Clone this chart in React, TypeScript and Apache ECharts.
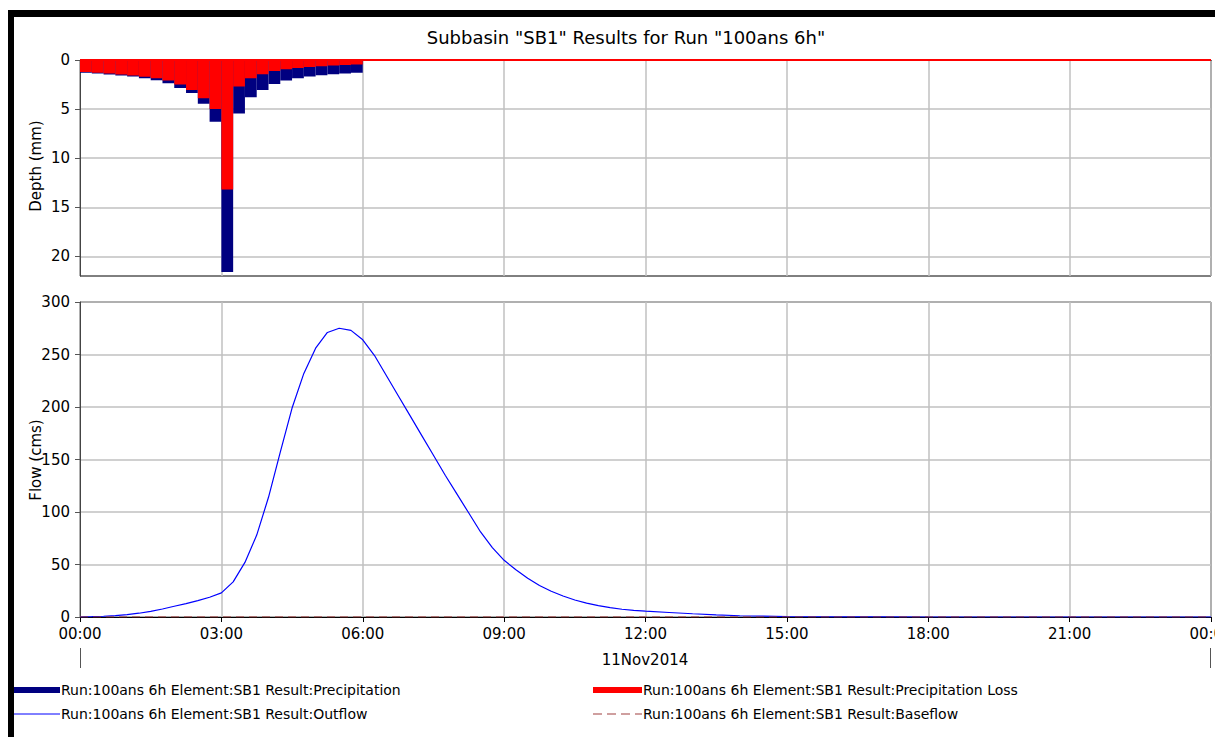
import React, { useEffect, useRef } from "react";
import * as echarts from "echarts";

// 15-minute precipitation intervals (hours from 00:00, 11Nov2014)
const precipTotal = [1.3, 1.38, 1.47, 1.57, 1.68, 1.85, 2.05, 2.38, 2.85, 3.36, 4.46, 6.3, 21.6, 5.45, 3.8, 3.05, 2.45, 2.1, 1.85, 1.68, 1.55, 1.45, 1.37, 1.3];
const precipLoss = [1.22, 1.3, 1.38, 1.47, 1.57, 1.7, 1.87, 2.1, 2.5, 3.05, 3.9, 5.0, 13.2, 2.7, 1.85, 1.45, 1.12, 0.95, 0.82, 0.72, 0.64, 0.57, 0.5, 0.45];
const intervalHours = 0.25;

// Outflow hydrograph (hour, cms)
const outflowHours = [0, 0.25, 0.5, 0.75, 1, 1.25, 1.5, 1.75, 2, 2.25, 2.5, 2.75, 3, 3.25, 3.5, 3.75, 4, 4.25, 4.5, 4.75, 5, 5.25, 5.5, 5.75, 6, 6.25, 6.5, 6.75, 7, 7.25, 7.5, 7.75, 8, 8.25, 8.5, 8.75, 9, 9.25, 9.5, 9.75, 10, 10.25, 10.5, 10.75, 11, 11.25, 11.5, 11.75, 12, 12.5, 13, 13.5, 14, 14.5, 15, 16, 17, 18, 24];
const outflowValues = [0, 0.3, 0.7, 1.3, 2.2, 3.6, 5.4, 7.6, 10.2, 12.8, 15.6, 18.8, 23.0, 33.5, 52, 78, 114, 157, 199, 232, 256, 271, 275, 273, 264, 249, 230, 211, 192, 173, 154, 135, 117, 99, 81, 66, 54, 45, 37, 30, 24.5, 20, 16.2, 13.2, 10.8, 8.9, 7.4, 6.4, 5.6, 4.3, 3.1, 2.0, 1.2, 0.8, 0.5, 0.2, 0.1, 0, 0];
const baseflowHours = [0, 24];
const baseflowValues = [0, 0];

const timeTicks = ["00:00", "03:00", "06:00", "09:00", "12:00", "15:00", "18:00", "21:00", "00:00"];
const depthTicks = [0, 5, 10, 15, 20];
const dateLabel = "11Nov2014";
const title = 'Subbasin "SB1" Results for Run "100ans 6h"';
const legendNames = [
  "Run:100ans 6h Element:SB1 Result:Precipitation",
  "Run:100ans 6h Element:SB1 Result:Precipitation Loss",
  "Run:100ans 6h Element:SB1 Result:Outflow",
  "Run:100ans 6h Element:SB1 Result:Baseflow",
];

const FONT = "DejaVu Sans";

export default function App() {
  const ref = useRef<HTMLDivElement>(null);
  useEffect(() => {
    if (!ref.current) return;
    const chart = echarts.init(ref.current, undefined, { renderer: "svg" });

    const barData = (vals: number[]) => vals.map((v, i) => [i * intervalHours, (i + 1) * intervalHours, v]);
    const rectItem = (color: string) => (params: any, api: any) => {
      const s = api.value(0);
      const e = api.value(1);
      const v = api.value(2);
      const p0 = api.coord([s, 0]);
      const p1 = api.coord([e, v]);
      return {
        type: "rect",
        shape: { x: p0[0], y: p0[1], width: p1[0] - p0[0], height: p1[1] - p0[1] },
        style: { fill: color },
      };
    };

    const xCommon = {
      type: "value",
      min: 0,
      max: 24,
      interval: 3,
      splitLine: { show: true, lineStyle: { color: "#c0c0c0", width: 1.5 } },
    };
    const yLabel = { color: "#000", fontFamily: FONT, fontSize: 15, margin: 10 };
    const yTick = { show: true, inside: false, length: 5, lineStyle: { color: "#555" } };

    const option: any = {
      animation: false,
      backgroundColor: "#fff",
      title: {
        text: title,
        left: 621,
        top: 23,
        textAlign: "center",
        textStyle: { fontFamily: FONT, fontSize: 18, fontWeight: "normal", color: "#000" },
      },
      grid: [
        { left: 80, right: 4, top: 60, height: 216, show: true, borderColor: "#000", borderWidth: 1, outerBoundsMode: "none", containLabel: false },
        { left: 80, right: 4, top: 302, height: 315, show: true, borderColor: "#000", borderWidth: 1, outerBoundsMode: "none", containLabel: false },
      ],
      xAxis: [
        {
          ...xCommon,
          gridIndex: 0,
          axisLabel: { show: false },
          axisTick: { show: false },
          axisLine: { show: true, lineStyle: { color: "#000" } },
        },
        {
          ...xCommon,
          gridIndex: 1,
          axisLabel: {
            show: true,
            color: "#000",
            fontFamily: FONT,
            fontSize: 15,
            margin: 9,
            showMaxLabel: true,
            showMinLabel: true,
            hideOverlap: false,
            formatter: (v: number) => timeTicks[Math.round(v / 3)] ?? "",
          },
          axisTick: { show: true, inside: false, length: 5, lineStyle: { color: "#000" } },
          axisLine: { show: true, lineStyle: { color: "#000" } },
        },
      ],
      yAxis: [
        {
          type: "value",
          gridIndex: 0,
          inverse: true,
          min: 0,
          max: 22,
          interval: 5,
          axisLabel: { ...yLabel, customValues: depthTicks, formatter: (v: number) => (v % 5 === 0 ? String(v) : "") },
          axisTick: { ...yTick, customValues: depthTicks },
          axisLine: { show: true, lineStyle: { color: "#444" } },
          splitLine: { show: true, lineStyle: { color: "#c0c0c0", width: 1.5 } },
        },
        {
          type: "value",
          gridIndex: 1,
          min: 0,
          max: 300,
          interval: 50,
          axisLabel: yLabel,
          axisTick: yTick,
          axisLine: { show: true, lineStyle: { color: "#444" } },
          splitLine: { show: true, lineStyle: { color: "#c0c0c0", width: 1.5 } },
        },
      ],
      series: [
        {
          type: "custom",
          name: legendNames[0],
          xAxisIndex: 0,
          yAxisIndex: 0,
          renderItem: rectItem("#000080"),
          encode: { x: [0, 1], y: 2 },
          data: barData(precipTotal),
          z: 2,
        },
        {
          type: "custom",
          name: legendNames[1],
          xAxisIndex: 0,
          yAxisIndex: 0,
          renderItem: rectItem("#ff0000"),
          encode: { x: [0, 1], y: 2 },
          data: barData(precipLoss),
          z: 3,
        },
        {
          type: "line",
          xAxisIndex: 0,
          yAxisIndex: 0,
          data: [[0, 0], [24, 0]],
          symbol: "none",
          lineStyle: { color: "#ff0000", width: 2 },
          z: 4,
        },
        {
          type: "line",
          name: legendNames[2],
          xAxisIndex: 1,
          yAxisIndex: 1,
          data: outflowHours.map((h, i) => [h, outflowValues[i]]),
          symbol: "none",
          lineStyle: { color: "#0000ff", width: 1.2 },
          z: 3,
        },
        {
          type: "line",
          name: legendNames[3],
          xAxisIndex: 1,
          yAxisIndex: 1,
          data: baseflowHours.map((h, i) => [h, baseflowValues[i]]),
          symbol: "none",
          lineStyle: { color: "#a03030", width: 1.2, type: [8, 5] },
          z: 4,
        },
      ],
      graphic: [
        // outer frame
        { type: "rect", shape: { x: 8, y: 10, width: 1207, height: 7 }, style: { fill: "#000" } },
        { type: "rect", shape: { x: 8, y: 10, width: 6, height: 727 }, style: { fill: "#000" } },
        // axis names
        {
          type: "text",
          x: 36,
          y: 166,
          rotation: Math.PI / 2,
          style: { text: "Depth (mm)", fontFamily: FONT, fontSize: 15, fill: "#000", textAlign: "center", textVerticalAlign: "middle" },
        },
        {
          type: "text",
          x: 36,
          y: 460,
          rotation: Math.PI / 2,
          style: { text: "Flow (cms)", fontFamily: FONT, fontSize: 15, fill: "#000", textAlign: "center", textVerticalAlign: "middle" },
        },
        // date label and long ticks
        {
          type: "text",
          x: 645,
          y: 660,
          style: { text: dateLabel, fontFamily: FONT, fontSize: 15, fill: "#000", textAlign: "center", textVerticalAlign: "middle" },
        },
        { type: "line", shape: { x1: 80.5, y1: 648, x2: 80.5, y2: 668 }, style: { stroke: "#555", lineWidth: 1 } },
        { type: "line", shape: { x1: 1210.5, y1: 648, x2: 1210.5, y2: 668 }, style: { stroke: "#555", lineWidth: 1 } },
        // legend
        { type: "line", shape: { x1: 14, y1: 690, x2: 60, y2: 690 }, style: { stroke: "#000080", lineWidth: 6 } },
        {
          type: "text",
          x: 61,
          y: 690,
          style: { text: legendNames[0], fontFamily: FONT, fontSize: 14, fill: "#000", textVerticalAlign: "middle" },
        },
        { type: "line", shape: { x1: 593, y1: 690, x2: 642, y2: 690 }, style: { stroke: "#ff0000", lineWidth: 6 } },
        {
          type: "text",
          x: 643,
          y: 690,
          style: { text: legendNames[1], fontFamily: FONT, fontSize: 14, fill: "#000", textVerticalAlign: "middle" },
        },
        { type: "line", shape: { x1: 14, y1: 714, x2: 60, y2: 714 }, style: { stroke: "#0000ff", lineWidth: 1 } },
        {
          type: "text",
          x: 61,
          y: 714,
          style: { text: legendNames[2], fontFamily: FONT, fontSize: 14, fill: "#000", textVerticalAlign: "middle" },
        },
        { type: "line", shape: { x1: 593, y1: 714, x2: 642, y2: 714 }, style: { stroke: "#a04040", lineWidth: 1.2, lineDash: [9, 5] } },
        {
          type: "text",
          x: 643,
          y: 714,
          style: { text: legendNames[3], fontFamily: FONT, fontSize: 14, fill: "#000", textVerticalAlign: "middle" },
        },
      ],
    };

    chart.setOption(option);
    return () => chart.dispose();
  }, []);

  return (
    <div
      ref={ref}
      style={{ position: "absolute", left: 0, top: 0, width: 1215, height: 737, background: "#fff" }}
    />
  );
}
